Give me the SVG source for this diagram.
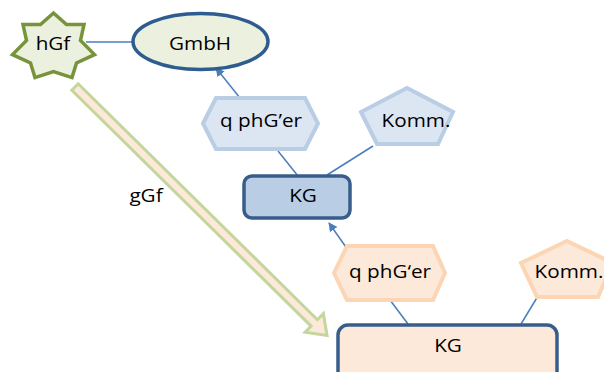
<svg xmlns="http://www.w3.org/2000/svg" width="604" height="372" viewBox="0 0 604 372">
<defs>
<style>
.t{font-family:"Open Sans","Liberation Sans",sans-serif;font-size:18px;fill:#000;text-anchor:middle}
.c{stroke:#4A7EBB;stroke-width:1.5;fill:none}
</style>
<marker id="ah" viewBox="0 0 10 10" refX="9" refY="5" markerWidth="9" markerHeight="9" markerUnits="userSpaceOnUse" orient="auto">
<path d="M0,0 L10,5 L0,10 Z" fill="#4A7EBB"/>
</marker>
</defs>
<rect width="604" height="372" fill="#fff"/>
<g id="connectors">
<line class="c" x1="86" y1="42" x2="133" y2="42"/>
<line class="c" x1="240" y1="98" x2="216" y2="68" marker-end="url(#ah)"/>
<line class="c" x1="278" y1="151" x2="298" y2="176"/>
<line class="c" x1="373" y1="146" x2="327" y2="175"/>
<line class="c" x1="348" y1="250" x2="329" y2="223" marker-end="url(#ah)"/>
<line class="c" x1="390" y1="300" x2="408" y2="324"/>
<line class="c" x1="538" y1="296" x2="521" y2="324"/>
<g id="bigarrow" transform="translate(75,87) rotate(44.6)">
<path d="M0,-4.5 L336,-4.5 L336,-13 L354,0 L336,13 L336,4.5 L0,4.5 Z" fill="#FDE9D9" stroke="#C3D69B" stroke-width="3" stroke-linejoin="miter"/>
</g>
<text class="t" transform="matrix(1.15 0 0 1 146 202)">gGf</text>
</g>
<g id="hGf">
<polygon points="53.5,13 66.5,24.5 84,24.5 80.5,40.5 94.5,54.6 76.5,63 72,77.6 53.5,71.5 35,77.6 30.5,63 12.5,54.6 26.5,40.5 23,24.5 40.5,24.5" fill="#EBF1DE" stroke="#77933C" stroke-width="3.5" stroke-linejoin="miter"/>
<text class="t" transform="matrix(1.15 0 0 1 53 50)">hGf</text>
</g>
<g id="GmbH">
<ellipse cx="200.5" cy="41.5" rx="67.5" ry="28" fill="#EBF1DE" stroke="#2E5C8F" stroke-width="3.5"/>
<text class="t" transform="matrix(1.15 0 0 1 200 50)">GmbH</text>
</g>
<g id="qphGer1">
<polygon points="203,123.5 216,98 305,98 318,123.5 305,149 216,149" fill="#DCE6F2" stroke="#B9CDE5" stroke-width="4"/>
<text class="t" transform="matrix(1.15 0 0 1 261 127)">q phG’er</text>
</g>
<g id="Komm1">
<polygon points="407,88 453,112 438,144 377,144 361,112" fill="#DCE6F2" stroke="#B9CDE5" stroke-width="4"/>
<text class="t" transform="matrix(1.15 0 0 1 416 127)">Komm.</text>
</g>
<g id="KG1">
<rect x="244" y="176" width="106" height="42" rx="8" fill="#B9CDE5" stroke="#385D8A" stroke-width="3.5"/>
<text class="t" transform="matrix(1.15 0 0 1 303 202)">KG</text>
</g>
<g id="qphGer2">
<polygon points="334,273 347,246 433,246 445,273 433,300 347,300" fill="#FDE9D9" stroke="#FCD5B5" stroke-width="4"/>
<text class="t" transform="matrix(1.15 0 0 1 390 278)">q phG‘er</text>
</g>
<g id="Komm2">
<polygon points="567,241 613,263 598,297 537,297 521,263" fill="#FDE9D9" stroke="#FCD5B5" stroke-width="4"/>
<text class="t" transform="matrix(1.15 0 0 1 569 278)">Komm.</text>
</g>
<g id="KG2">
<rect x="338" y="325" width="219" height="60" rx="10" fill="#FDE9D9" stroke="#385D8A" stroke-width="3.5"/>
<text class="t" transform="matrix(1.15 0 0 1 448 352)">KG</text>
</g>
</svg>
